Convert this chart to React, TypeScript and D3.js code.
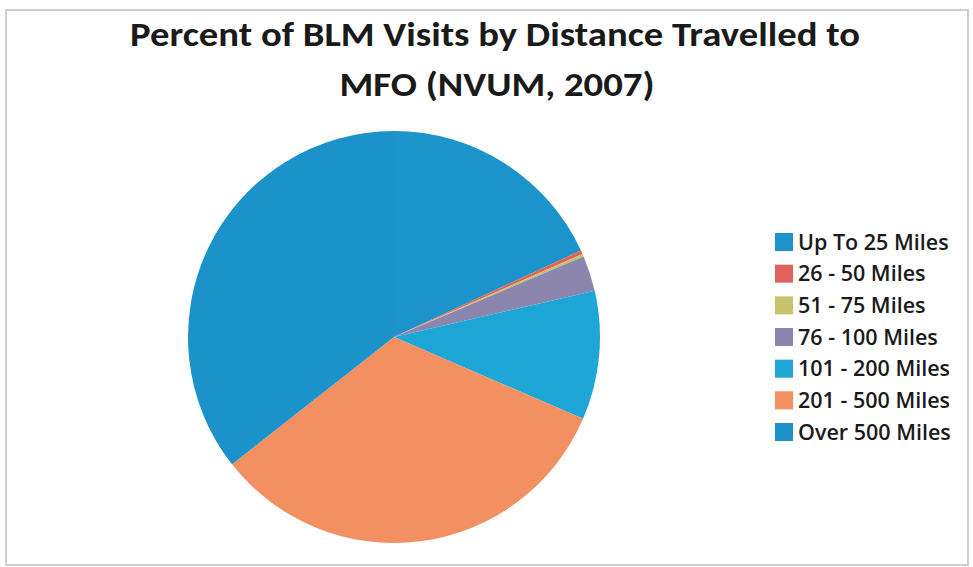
import { useMemo } from "react";
import * as d3 from "d3";

// distance bands and share of visits (percent)
const categories = [
  "Up To 25 Miles",
  "26 - 50 Miles",
  "51 - 75 Miles",
  "76 - 100 Miles",
  "101 - 200 Miles",
  "201 - 500 Miles",
  "Over 500 Miles",
];
const percents = [18.1, 0.3, 0.2, 2.8, 10.1, 32.9, 35.6];
const colors = ["#1c93cb", "#e0625c", "#c5c46c", "#8c86ae", "#1ea6d6", "#f29062", "#1b92ca"];

const titleLines = ["Percent of BLM Visits by Distance Travelled to", "MFO (NVUM, 2007)"];

const W = 973;
const H = 567;
const TITLE_FONT = "Carlito, 'Liberation Sans Narrow', 'Open Sans', sans-serif";
const LEGEND_FONT = "'Open Sans', sans-serif";

const App = () => {
  const cx = 394;
  const cy = 337;
  const radius = 206;

  const slices = useMemo(() => {
    const pie = d3
      .pie<number>()
      .sort(null)
      .startAngle(0)
      .endAngle(2 * Math.PI)
      .value((d) => d);
    return pie(percents);
  }, []);

  const arc = d3.arc<d3.PieArcDatum<number>>().innerRadius(0).outerRadius(radius);

  // legend rows
  const legendY = d3
    .scalePoint<string>()
    .domain(categories)
    .range([242, 432]);

  return (
    <svg
      width={W}
      height={H}
      style={{ position: "absolute", left: 0, top: 0, background: "#fff" }}
    >
      {/* chart frame */}
      <rect x={6} y={10} width={962} height={555} fill="none" stroke="#cfcfcf" strokeWidth={2} />

      {/* title */}
      <text
        x={495}
        y={46}
        textAnchor="middle"
        fontFamily={TITLE_FONT}
        fontWeight="bold"
        fontSize={35}
        fill="#1a1a1a"
        textLength={730}
        lengthAdjust="spacingAndGlyphs"
      >
        {titleLines[0]}
      </text>
      <text
        x={497}
        y={96}
        textAnchor="middle"
        fontFamily={TITLE_FONT}
        fontWeight="bold"
        fontSize={35}
        fill="#1a1a1a"
        textLength={315}
        lengthAdjust="spacingAndGlyphs"
      >
        {titleLines[1]}
      </text>

      {/* pie */}
      <g transform={`translate(${cx},${cy})`}>
        {slices.map((s, i) => (
          <path key={categories[i]} d={arc(s) || ""} fill={colors[i]} />
        ))}
      </g>

      {/* legend */}
      <g fontFamily={LEGEND_FONT} fontSize={21.5} fontWeight={600} fill="#1a1a1a">
        {categories.map((c, i) => (
          <g key={c} transform={`translate(775,${legendY(c)})`}>
            <rect x={0} y={-9} width={18} height={18} fill={colors[i]} />
            <text x={23} y={0} dy="0.36em">
              {c}
            </text>
          </g>
        ))}
      </g>
    </svg>
  );
};

export default App;
